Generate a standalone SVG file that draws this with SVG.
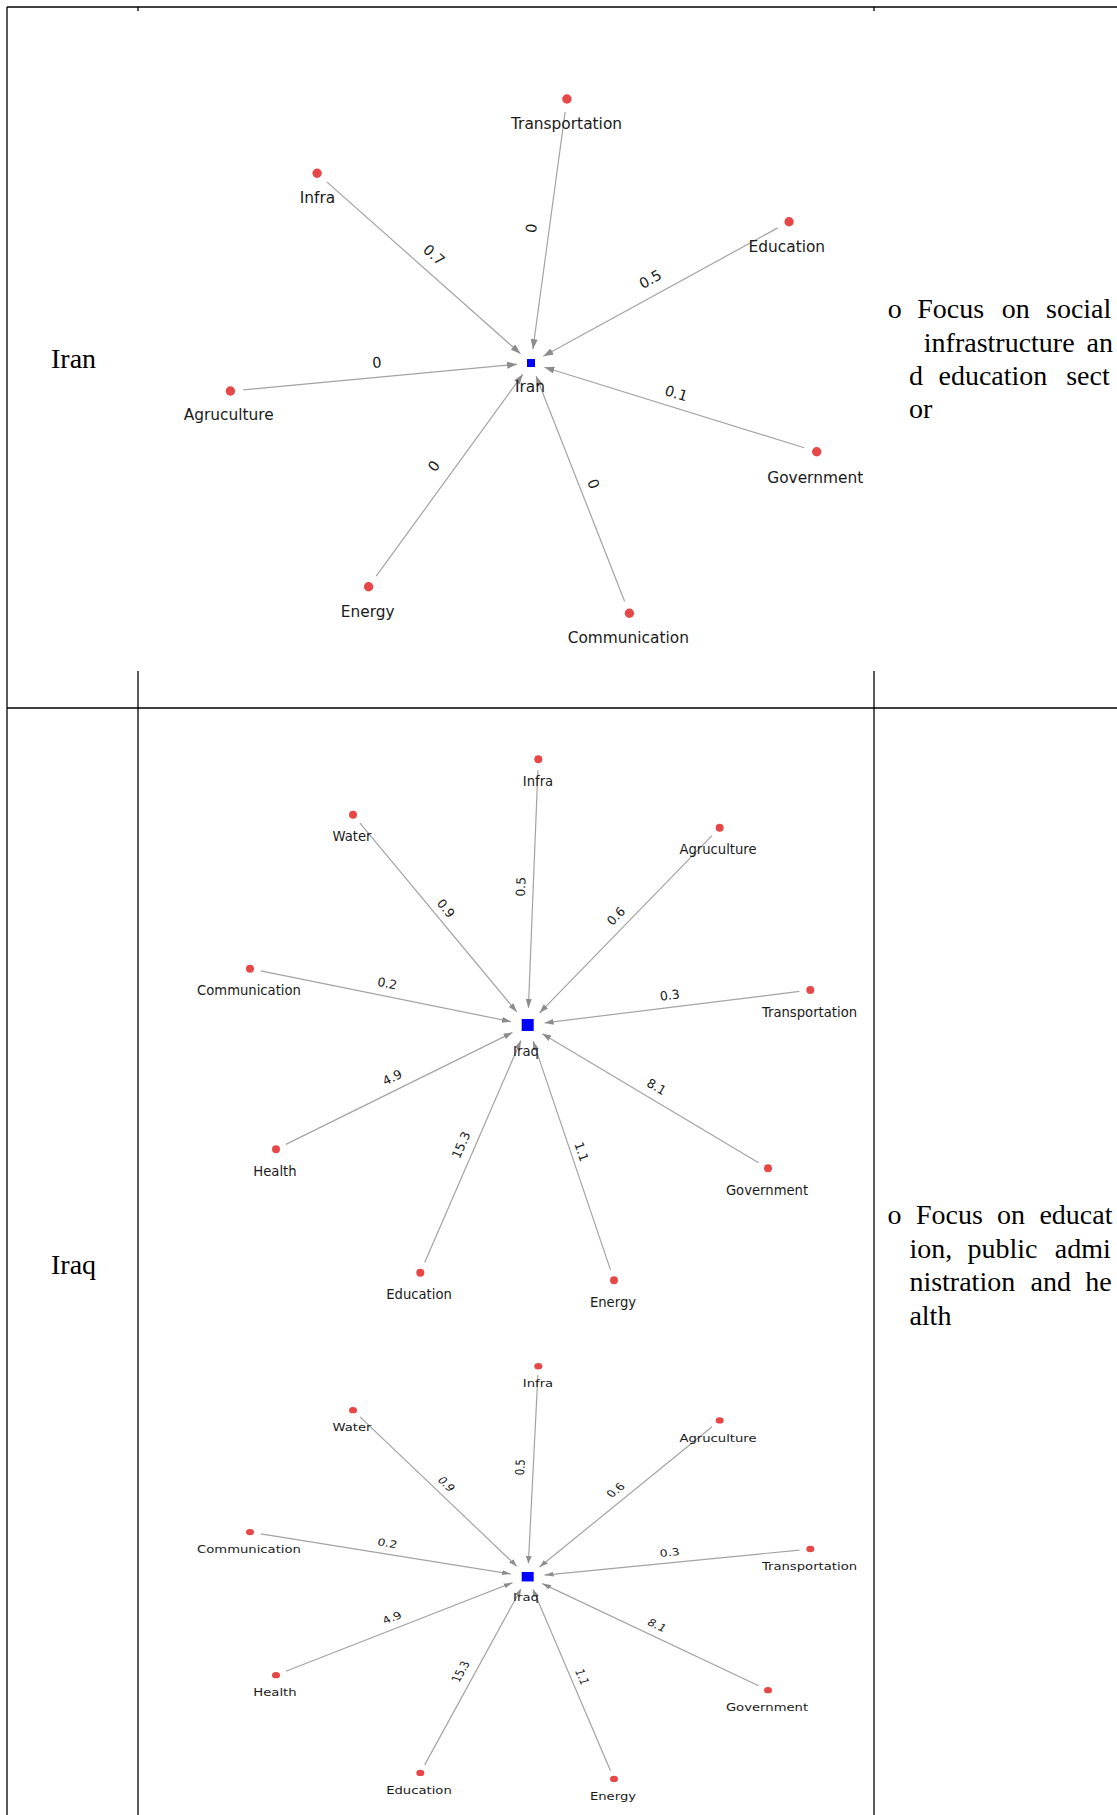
<svg xmlns="http://www.w3.org/2000/svg" width="1117" height="1815" viewBox="0 0 1117 1815">
  <style>
    .grid { stroke: #000; stroke-width: 1.3; fill: none; }
    .edge { stroke: #a3a3a3; stroke-width: 1.2; fill: none; vector-effect: non-scaling-stroke; }
    .src { fill: #e64848; }
    .hub { fill: #0000ff; }
    .lbl { font-family: "DejaVu Sans", Verdana, sans-serif; fill: #1a1a1a; text-anchor: middle; }
    .lblA { font-size: 15.4px; }
    .lblB { font-size: 13.2px; }
    .wt { font-family: "DejaVu Sans", Verdana, sans-serif; fill: #1a1a1a; text-anchor: middle; dominant-baseline: central; }
    .wtA { font-size: 14.5px; }
    .wtB { font-size: 12.5px; }
    .cell { font-family: "Liberation Serif", "Times New Roman", serif; font-size: 28px; fill: #000; }
  </style>
  <defs>
    <marker id="arrA" markerUnits="userSpaceOnUse" markerWidth="10" markerHeight="7" refX="10" refY="3.5" orient="auto">
      <path d="M0,0 L10,3.5 L0,7 Z" fill="#8c8c8c"/>
    </marker>
    <marker id="arrB" markerUnits="userSpaceOnUse" markerWidth="9" markerHeight="6" refX="9" refY="3" orient="auto">
      <path d="M0,0 L9,3 L0,6 Z" fill="#8c8c8c"/>
    </marker>
  </defs>

  <rect width="1117" height="1815" fill="#fff"/>

  <!-- table rules -->
  <g id="table">
    <line class="grid" x1="7" y1="7" x2="1117" y2="7"/>
    <line class="grid" x1="7" y1="7" x2="7" y2="1815"/>
    <line class="grid" x1="138" y1="7" x2="138" y2="11"/>
    <line class="grid" x1="874" y1="7" x2="874" y2="11"/>
    <line class="grid" x1="138" y1="671" x2="138" y2="1815"/>
    <line class="grid" x1="874" y1="671" x2="874" y2="1815"/>
    <line class="grid" x1="7" y1="708" x2="1117" y2="708"/>
  </g>

  <!-- row headers -->
  <text class="cell" x="51" y="368">Iran</text>
  <text class="cell" x="51" y="1274">Iraq</text>

  <!-- notes column -->
  <text class="cell" y="318"><tspan x="887.7">o</tspan><tspan x="917.2">Focus</tspan><tspan x="1001.8">on</tspan><tspan x="1046">social</tspan></text>
  <text class="cell" y="351.5"><tspan x="923.8">infrastructure</tspan><tspan x="1086.5">an</tspan></text>
  <text class="cell" y="385"><tspan x="909">d</tspan><tspan x="938.5">education</tspan><tspan x="1066.2">sect</tspan></text>
  <text class="cell" y="418.3"><tspan x="909">or</tspan></text>

  <text class="cell" y="1224"><tspan x="887.5">o</tspan><tspan x="916">Focus</tspan><tspan x="997">on</tspan><tspan x="1039.4">educat</tspan></text>
  <text class="cell" y="1257.7"><tspan x="909.4">ion,</tspan><tspan x="967.5">public</tspan><tspan x="1054.8">admi</tspan></text>
  <text class="cell" y="1291.3"><tspan x="909.4">nistration</tspan><tspan x="1030.5">and</tspan><tspan x="1085.3">he</tspan></text>
  <text class="cell" y="1325"><tspan x="909.4">alth</tspan></text>

  <!-- Iran network -->
  <g id="iran-graph">
    <g id="iran-edges">
      <line class="edge" x1="565.15" y1="111.9" x2="532.9" y2="349.1" marker-end="url(#arrA)"/>
      <line class="edge" x1="326.8" y1="181.9" x2="520.5" y2="353.7" marker-end="url(#arrA)"/>
      <line class="edge" x1="777.7" y1="227.9" x2="543.3" y2="356.3" marker-end="url(#arrA)"/>
      <line class="edge" x1="243.3" y1="389.8" x2="517.1" y2="364.3" marker-end="url(#arrA)"/>
      <line class="edge" x1="376.2" y1="576.2" x2="522.8" y2="374.3" marker-end="url(#arrA)"/>
      <line class="edge" x1="624.6" y1="601.2" x2="536.1" y2="376.0" marker-end="url(#arrA)"/>
      <line class="edge" x1="804.3" y1="447.8" x2="544.4" y2="367.2" marker-end="url(#arrA)"/>
      <text class="wt wtA" transform="rotate(-82.3 531.4 228.3)" x="531.4" y="228.3">0</text>
      <text class="wt wtA" transform="rotate(41.6 434 255)" x="434" y="255">0.7</text>
      <text class="wt wtA" transform="rotate(-28.7 650.4 279.3)" x="650.4" y="279.3">0.5</text>
      <text class="wt wtA" transform="rotate(-5.3 376.8 362.7)" x="376.8" y="362.7">0</text>
      <text class="wt wtA" transform="rotate(-54 434 466)" x="434" y="466">0</text>
      <text class="wt wtA" transform="rotate(68.5 593.4 484)" x="593.4" y="484">0</text>
      <text class="wt wtA" transform="rotate(17.2 676.2 393.3)" x="676.2" y="393.3">0.1</text>
    </g>
    <g id="iran-hub"><rect class="hub" x="527" y="359" width="8" height="8"/><text class="lbl lblA" x="530" y="392">Iran</text></g>
    <g id="iran-transportation"><circle class="src" cx="566.9" cy="99" r="4.7"/><text class="lbl lblA" x="566.5" y="128.5">Transportation</text></g>
    <g id="iran-infra"><circle class="src" cx="317.1" cy="173.3" r="4.7"/><text class="lbl lblA" x="317.5" y="203.3">Infra</text></g>
    <g id="iran-education"><circle class="src" cx="789.1" cy="221.7" r="4.7"/><text class="lbl lblA" x="786.8" y="251.7">Education</text></g>
    <g id="iran-agruculture"><circle class="src" cx="230.4" cy="391" r="4.7"/><text class="lbl lblA" x="228.7" y="420">Agruculture</text></g>
    <g id="iran-energy"><circle class="src" cx="368.6" cy="586.7" r="4.7"/><text class="lbl lblA" x="367.7" y="616.7">Energy</text></g>
    <g id="iran-communication"><circle class="src" cx="629.4" cy="613.3" r="4.7"/><text class="lbl lblA" x="628.3" y="643.3">Communication</text></g>
    <g id="iran-government"><circle class="src" cx="816.7" cy="451.7" r="4.7"/><text class="lbl lblA" x="815.2" y="482.5">Government</text></g>
  </g>

  <!-- Iraq network (full height) -->
  <g id="iraq-graph">
    <g id="iraq-edges">
      <line class="edge" x1="537.9" y1="770.3" x2="528.4" y2="1008.0" marker-end="url(#arrB)"/>
      <line class="edge" x1="360.0" y1="823.2" x2="516.8" y2="1011.9" marker-end="url(#arrB)"/>
      <line class="edge" x1="712.0" y1="835.6" x2="539.6" y2="1012.8" marker-end="url(#arrB)"/>
      <line class="edge" x1="260.8" y1="970.9" x2="511.0" y2="1021.6" marker-end="url(#arrB)"/>
      <line class="edge" x1="799.4" y1="991.4" x2="544.6" y2="1022.9" marker-end="url(#arrB)"/>
      <line class="edge" x1="285.9" y1="1144.4" x2="512.5" y2="1032.5" marker-end="url(#arrB)"/>
      <line class="edge" x1="758.6" y1="1162.7" x2="542.3" y2="1033.7" marker-end="url(#arrB)"/>
      <line class="edge" x1="424.7" y1="1262.6" x2="520.9" y2="1040.6" marker-end="url(#arrB)"/>
      <line class="edge" x1="610.5" y1="1269.9" x2="533.1" y2="1041.1" marker-end="url(#arrB)"/>
      <text class="wt wtB" transform="rotate(-87.7 520.6 886.7)" x="520.6" y="886.7">0.5</text>
      <text class="wt wtB" transform="rotate(50.3 446 908.3)" x="446" y="908.3">0.9</text>
      <text class="wt wtB" transform="rotate(-45.8 616 916)" x="616" y="916">0.6</text>
      <text class="wt wtB" transform="rotate(11.5 387.3 983.3)" x="387.3" y="983.3">0.2</text>
      <text class="wt wtB" transform="rotate(-7.1 669.7 995)" x="669.7" y="995">0.3</text>
      <text class="wt wtB" transform="rotate(-26.3 392.3 1077.3)" x="392.3" y="1077.3">4.9</text>
      <text class="wt wtB" transform="rotate(30.8 656.7 1086.7)" x="656.7" y="1086.7">8.1</text>
      <text class="wt wtB" transform="rotate(-66.6 461 1145)" x="461" y="1145">15.3</text>
      <text class="wt wtB" transform="rotate(71.3 581.7 1151.7)" x="581.7" y="1151.7">1.1</text>
    </g>
    <g id="iraq-hub"><rect class="hub" x="521.7" y="1019" width="12" height="12"/><text class="lbl lblB" x="526" y="1056">Iraq</text></g>
    <g id="iraq-infra"><circle class="src" cx="538.3" cy="759.3" r="4"/><text class="lbl lblB" x="538" y="786">Infra</text></g>
    <g id="iraq-water"><circle class="src" cx="353" cy="814.7" r="4"/><text class="lbl lblB" x="352" y="841.4">Water</text></g>
    <g id="iraq-agruculture"><circle class="src" cx="719.7" cy="827.7" r="4"/><text class="lbl lblB" x="718" y="854.4">Agruculture</text></g>
    <g id="iraq-communication"><circle class="src" cx="250" cy="968.7" r="4"/><text class="lbl lblB" x="249" y="995.4">Communication</text></g>
    <g id="iraq-transportation"><circle class="src" cx="810.3" cy="990" r="4"/><text class="lbl lblB" x="809.5" y="1016.7">Transportation</text></g>
    <g id="iraq-health"><circle class="src" cx="276" cy="1149.3" r="4"/><text class="lbl lblB" x="275" y="1176">Health</text></g>
    <g id="iraq-government"><circle class="src" cx="768" cy="1168.3" r="4"/><text class="lbl lblB" x="767" y="1195">Government</text></g>
    <g id="iraq-education"><circle class="src" cx="420.3" cy="1272.7" r="4"/><text class="lbl lblB" x="419" y="1299.4">Education</text></g>
    <g id="iraq-energy"><circle class="src" cx="614" cy="1280.3" r="4"/><text class="lbl lblB" x="613" y="1307">Energy</text></g>
  </g>

  <!-- Iraq network (vertically compressed copy) -->
  <g id="iraq-graph-small" transform="translate(0 764.9) scale(1 0.792)">
    <g id="iraq2-edges">
      <line class="edge" x1="537.9" y1="770.3" x2="528.4" y2="1008.0" marker-end="url(#arrB)"/>
      <line class="edge" x1="360.0" y1="823.2" x2="516.8" y2="1011.9" marker-end="url(#arrB)"/>
      <line class="edge" x1="712.0" y1="835.6" x2="539.6" y2="1012.8" marker-end="url(#arrB)"/>
      <line class="edge" x1="260.8" y1="970.9" x2="511.0" y2="1021.6" marker-end="url(#arrB)"/>
      <line class="edge" x1="799.4" y1="991.4" x2="544.6" y2="1022.9" marker-end="url(#arrB)"/>
      <line class="edge" x1="285.9" y1="1144.4" x2="512.5" y2="1032.5" marker-end="url(#arrB)"/>
      <line class="edge" x1="758.6" y1="1162.7" x2="542.3" y2="1033.7" marker-end="url(#arrB)"/>
      <line class="edge" x1="424.7" y1="1262.6" x2="520.9" y2="1040.6" marker-end="url(#arrB)"/>
      <line class="edge" x1="610.5" y1="1269.9" x2="533.1" y2="1041.1" marker-end="url(#arrB)"/>
      <text class="wt wtB" transform="rotate(-87.7 520.6 886.7)" x="520.6" y="886.7">0.5</text>
      <text class="wt wtB" transform="rotate(50.3 446 908.3)" x="446" y="908.3">0.9</text>
      <text class="wt wtB" transform="rotate(-45.8 616 916)" x="616" y="916">0.6</text>
      <text class="wt wtB" transform="rotate(11.5 387.3 983.3)" x="387.3" y="983.3">0.2</text>
      <text class="wt wtB" transform="rotate(-7.1 669.7 995)" x="669.7" y="995">0.3</text>
      <text class="wt wtB" transform="rotate(-26.3 392.3 1077.3)" x="392.3" y="1077.3">4.9</text>
      <text class="wt wtB" transform="rotate(30.8 656.7 1086.7)" x="656.7" y="1086.7">8.1</text>
      <text class="wt wtB" transform="rotate(-66.6 461 1145)" x="461" y="1145">15.3</text>
      <text class="wt wtB" transform="rotate(71.3 581.7 1151.7)" x="581.7" y="1151.7">1.1</text>
    </g>
    <g id="iraq2-hub"><rect class="hub" x="521.7" y="1019" width="12" height="12"/><text class="lbl lblB" x="526" y="1056">Iraq</text></g>
    <g id="iraq2-infra"><circle class="src" cx="538.3" cy="759.3" r="4"/><text class="lbl lblB" x="538" y="786">Infra</text></g>
    <g id="iraq2-water"><circle class="src" cx="353" cy="814.7" r="4"/><text class="lbl lblB" x="352" y="841.4">Water</text></g>
    <g id="iraq2-agruculture"><circle class="src" cx="719.7" cy="827.7" r="4"/><text class="lbl lblB" x="718" y="854.4">Agruculture</text></g>
    <g id="iraq2-communication"><circle class="src" cx="250" cy="968.7" r="4"/><text class="lbl lblB" x="249" y="995.4">Communication</text></g>
    <g id="iraq2-transportation"><circle class="src" cx="810.3" cy="990" r="4"/><text class="lbl lblB" x="809.5" y="1016.7">Transportation</text></g>
    <g id="iraq2-health"><circle class="src" cx="276" cy="1149.3" r="4"/><text class="lbl lblB" x="275" y="1176">Health</text></g>
    <g id="iraq2-government"><circle class="src" cx="768" cy="1168.3" r="4"/><text class="lbl lblB" x="767" y="1195">Government</text></g>
    <g id="iraq2-education"><circle class="src" cx="420.3" cy="1272.7" r="4"/><text class="lbl lblB" x="419" y="1299.4">Education</text></g>
    <g id="iraq2-energy"><circle class="src" cx="614" cy="1280.3" r="4"/><text class="lbl lblB" x="613" y="1307">Energy</text></g>
  </g>
</svg>
